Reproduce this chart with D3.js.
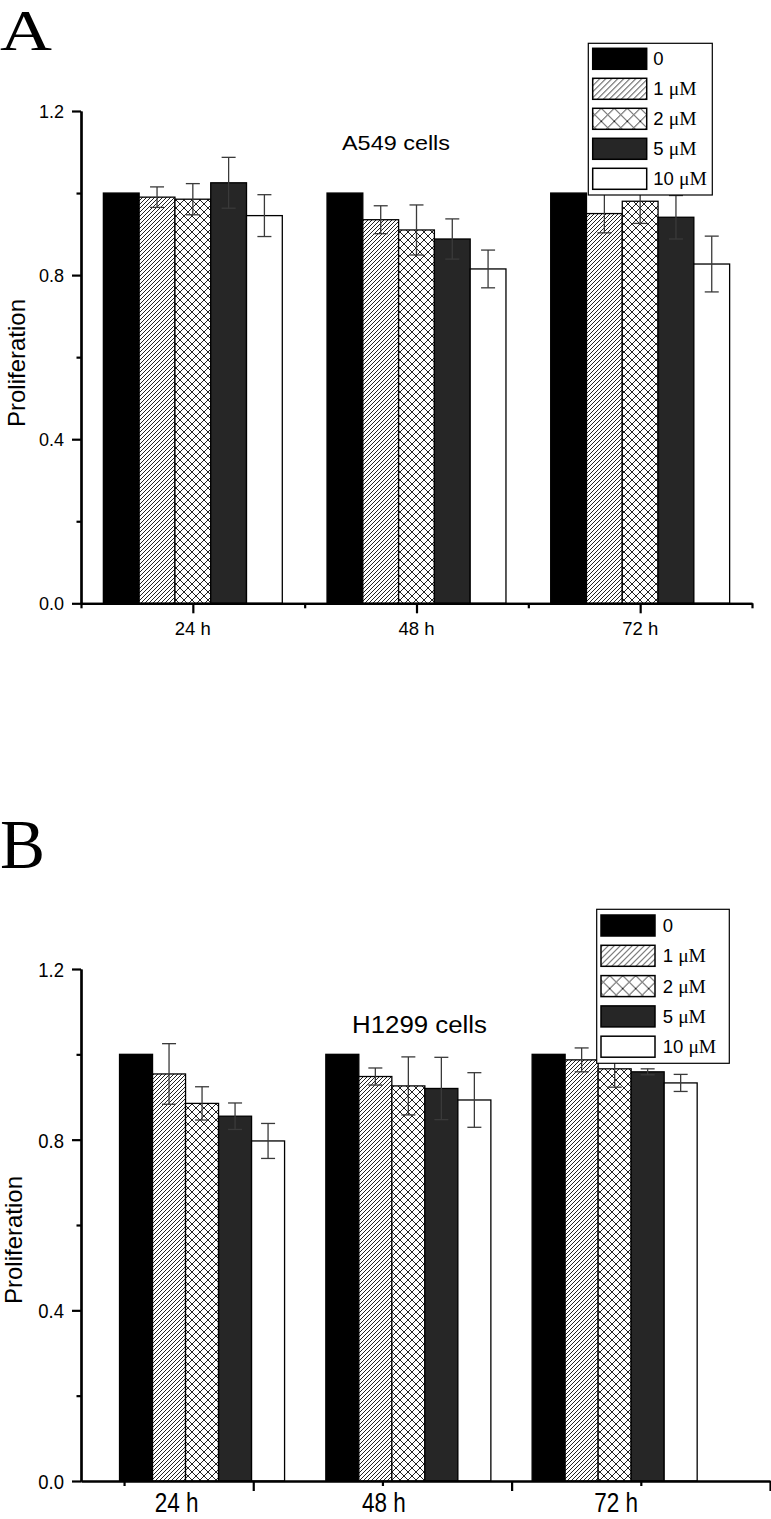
<!DOCTYPE html>
<html>
<head>
<meta charset="utf-8">
<script src="https://cdn.jsdelivr.net/npm/d3@7"></script>
<style>
  body { margin: 0; background: #fff; }
  svg { display: block; }
  text { font-family: "Liberation Sans", Arial, sans-serif; fill: #000; }
</style>
</head>
<body>
<div id="chart"></div>
<script>
"use strict"

/* DATA
 * =============================== */

var groups = ["24 h", "48 h", "72 h"]
  , doses = ["0", "1 μM", "2 μM", "5 μM", "10 μM"]
  , yTicks = [0, 0.4, 0.8, 1.2]
  , yMinorTicks = [0.2, 0.6, 1.0]

// A549: one row per time point, one value per dose
var a549Mean = [
    [1.0, 0.99, 0.985, 1.025, 0.945]
  , [1.0, 0.935, 0.91, 0.888, 0.815]
  , [1.0, 0.95, 0.98, 0.941, 0.827]
  ]
  , a549Err = [
    [0, 0.025, 0.038, 0.062, 0.051]
  , [0, 0.034, 0.061, 0.049, 0.046]
  , [0, 0.047, 0.054, 0.053, 0.068]
  ]

// H1299
var h1299Mean = [
    [1.0, 0.954, 0.885, 0.855, 0.797]
  , [1.0, 0.948, 0.926, 0.920, 0.893]
  , [1.0, 0.987, 0.966, 0.959, 0.933]
  ]
  , h1299Err = [
    [0, 0.071, 0.039, 0.031, 0.041]
  , [0, 0.02, 0.068, 0.073, 0.064]
  , [0, 0.028, 0.043, 0.007, 0.02]
  ]

/* LAYOUT
 * =============================== */

var fills = ["#000", "url(#hatch)", "url(#cross)", "#262626", "#fff"]
  , legendFills = ["#000", "url(#hatch-lg)", "url(#cross-lg)", "#262626", "#fff"]

var panels = [
  {
    letter: "A", letterY: 50, letterSize: 56, letterWidth: 52
  , title: "A549 cells", titleX: 342, titleY: 150, titleSize: 21, titleWidth: 108
  , mean: a549Mean, err: a549Err
  , yRange: [603.3, 111]
  , axisDomain: [0.5, 3.5], axisRange: [81, 752]
  , major: [1, 2, 3], minor: [0.5, 1.5, 2.5, 3.5]
  , barRange: [81, 752]
  , labelAt: [1, 2, 3], labelY: 635, labelSize: 18.5, labelStretch: 1
  , tickSize: 18, tickStretch: 1
  , yLabelX: 25, yLabelY: 363
  , legend: {x: 588.3, y: 43.3, w: 124, h: 151.7, row: 30, padX: 4.4, padY: 5, textX: 65}
  }
, {
    letter: "B", letterY: 868.3, letterSize: 70, letterWidth: 45
  , title: "H1299 cells", titleX: 352, titleY: 1033.3, titleSize: 23, titleWidth: 135
  , mean: h1299Mean, err: h1299Err
  , yRange: [1481, 969]
  , axisDomain: [1 / 3, 3], axisRange: [81, 770]
  , major: [1, 2, 3], minor: [0.5, 1.5, 2.5]
  , barRange: [98.9, 717.8]
  , labelAt: [0.703, 1.506, 2.404], labelY: 1511.5, labelSize: 22.5, labelStretch: 1.25
  , tickSize: 18.5, tickStretch: 1.12
  , yLabelX: 22, yLabelY: 1240
  , legend: {x: 596.7, y: 909.3, w: 132.6, h: 154, row: 30.3, padX: 4.3, padY: 5.7, textX: 66}
  }
]

var width = 771
  , height = 1519

var svg = d3.select("#chart")
  .append("svg")
  .attr("width", width)
  .attr("height", height)

/* PATTERNS
 * =============================== */

var defs = svg.append("defs")

function hatchPattern (id, s) {
  defs.append("pattern")
    .attr("id", id)
    .attr("patternUnits", "userSpaceOnUse")
    .attr("width", s)
    .attr("height", s)
    .call(function (p) {
      p.append("rect").attr("width", s).attr("height", s).attr("fill", "#fff")
      p.append("path")
        .attr("d", "M" + (-s / 2) + "," + (s / 2) + "l" + s + "," + (-s)
          + "M0," + s + "l" + s + "," + (-s)
          + "M" + (s / 2) + "," + (s * 1.5) + "l" + s + "," + (-s))
        .attr("stroke", "#222")
        .attr("stroke-width", 1)
    })
}

function crossPattern (id, s) {
  defs.append("pattern")
    .attr("id", id)
    .attr("patternUnits", "userSpaceOnUse")
    .attr("width", s)
    .attr("height", s)
    .call(function (p) {
      p.append("rect").attr("width", s).attr("height", s).attr("fill", "#fff")
      p.append("path")
        .attr("d", "M0,0L" + s + "," + s + "M" + s + ",0L0," + s)
        .attr("stroke", "#222")
        .attr("stroke-width", 1)
    })
}

hatchPattern("hatch", 4)
hatchPattern("hatch-lg", 6)
crossPattern("cross", 8)
crossPattern("cross-lg", 13)

/* PANELS
 * =============================== */

function drawPanel (p) {
  var g = svg.append("g")

  var y = d3.scaleLinear().domain([0, 1.2]).range(p.yRange)
    , xAxis = d3.scaleLinear().domain(p.axisDomain).range(p.axisRange)
    , xBar = d3.scaleLinear().domain([0.5, 3.5]).range(p.barRange)
    , unit = xBar(2) - xBar(1)
    , inner = d3.scaleBand().domain(doses).range([-0.4 * unit, 0.4 * unit])

  // panel letter
  g.append("text")
    .attr("x", 0)
    .attr("y", p.letterY)
    .attr("textLength", p.letterWidth)
    .attr("lengthAdjust", "spacingAndGlyphs")
    .style("font-family", '"Liberation Serif", "Times New Roman", serif')
    .style("font-size", p.letterSize + "px")
    .text(p.letter)

  // bars
  var rows = []
  p.mean.forEach(function (vals, gi) {
    vals.forEach(function (v, di) {
      rows.push({group: gi, dose: di, value: v, err: p.err[gi][di]})
    })
  })

  g.selectAll("rect.bar")
    .data(rows)
    .enter().append("rect")
      .attr("class", "bar")
      .attr("x", function (d) { return xBar(d.group + 1) + inner(doses[d.dose]) })
      .attr("width", inner.bandwidth())
      .attr("y", function (d) { return y(d.value) })
      .attr("height", function (d) { return y(0) - y(d.value) })
      .attr("fill", function (d) { return fills[d.dose] })
      .attr("stroke", "#000")
      .attr("stroke-width", 1.3)

  // error bars
  var eb = g.selectAll("g.err")
    .data(rows.filter(function (d) { return d.err > 0 }))
    .enter().append("g")
      .attr("class", "err")
      .attr("transform", function (d) {
        return "translate(" + (xBar(d.group + 1) + inner(doses[d.dose]) + inner.bandwidth() / 2) + ",0)"
      })
      .attr("stroke", "#3a3a3a")
      .attr("stroke-width", 1.3)

  eb.append("line")
    .attr("y1", function (d) { return y(d.value + d.err) })
    .attr("y2", function (d) { return y(d.value - d.err) })
  eb.append("line")
    .attr("x1", -7).attr("x2", 7)
    .attr("y1", function (d) { return y(d.value + d.err) })
    .attr("y2", function (d) { return y(d.value + d.err) })
  eb.append("line")
    .attr("x1", -7).attr("x2", 7)
    .attr("y1", function (d) { return y(d.value - d.err) })
    .attr("y2", function (d) { return y(d.value - d.err) })

  // y axis
  var x0 = p.axisRange[0]
  var yMajor = g.append("g")
    .attr("transform", "translate(" + x0 + ",0)")
    .call(d3.axisLeft(y).tickValues(yTicks).tickSize(9).tickSizeOuter(0).tickPadding(8)
      .tickFormat(d3.format(".1f")))
  yMajor.selectAll("text")
    .style("font-size", p.tickSize + "px")
    .attr("dy", null)
    .attr("dominant-baseline", "central")
    .attr("transform", "scale(1," + p.tickStretch + ")")
  g.append("g")
    .attr("transform", "translate(" + x0 + ",0)")
    .call(d3.axisLeft(y).tickValues(yMinorTicks).tickSize(4.5).tickSizeOuter(0).tickFormat(""))

  // x axis
  var y0 = y(0)
  g.append("g")
    .attr("transform", "translate(0," + y0 + ")")
    .call(d3.axisBottom(xAxis).tickValues(p.major).tickSize(10).tickSizeOuter(0).tickFormat(""))
  g.append("g")
    .attr("transform", "translate(0," + y0 + ")")
    .call(d3.axisBottom(xAxis).tickValues(p.minor).tickSize(5).tickSizeOuter(0).tickFormat(""))

  g.selectAll(".domain, .tick line")
    .attr("stroke", "#000")
    .attr("stroke-width", 2.2)

  g.selectAll("text.xlab")
    .data(groups)
    .enter().append("text")
      .attr("class", "xlab")
      .attr("text-anchor", "middle")
      .attr("transform", function (d, i) {
        return "translate(" + xAxis(p.labelAt[i]) + "," + p.labelY + ") scale(1," + p.labelStretch + ")"
      })
      .style("font-size", p.labelSize + "px")
      .text(function (d) { return d })

  // y label
  g.append("text")
    .attr("transform", "translate(" + p.yLabelX + "," + p.yLabelY + ") rotate(-90)")
    .attr("text-anchor", "middle")
    .style("font-size", "24px")
    .text("Proliferation")

  // title
  g.append("text")
    .attr("x", p.titleX)
    .attr("y", p.titleY)
    .attr("textLength", p.titleWidth)
    .attr("lengthAdjust", "spacingAndGlyphs")
    .style("font-size", p.titleSize + "px")
    .text(p.title)

  // legend
  var L = p.legend
  var lg = g.append("g")
    .attr("transform", "translate(" + L.x + "," + L.y + ")")

  lg.append("rect")
    .attr("width", L.w)
    .attr("height", L.h)
    .attr("fill", "#fff")
    .attr("stroke", "#000")
    .attr("stroke-width", 1.2)

  var item = lg.selectAll("g.item")
    .data(doses)
    .enter().append("g")
      .attr("class", "item")
      .attr("transform", function (d, i) { return "translate(0," + (L.padY + i * L.row) + ")" })

  item.append("rect")
    .attr("x", L.padX)
    .attr("width", 54)
    .attr("height", 21)
    .attr("fill", function (d, i) { return legendFills[i] })
    .attr("stroke", "#000")
    .attr("stroke-width", 1.5)

  var lt = item.append("text")
    .attr("x", L.textX)
    .attr("y", 10.5)
    .attr("dy", "0.36em")
    .style("font-size", "18.5px")

  lt.append("tspan")
    .text(function (d) { return d.split(" ")[0] + (d.indexOf(" ") > 0 ? " " : "") })
  lt.append("tspan")
    .style("font-family", '"Liberation Serif", "Times New Roman", serif')
    .style("font-size", "19.5px")
    .text(function (d) { return d.split(" ")[1] || "" })
}

panels.forEach(drawPanel)
</script>
</body>
</html>
